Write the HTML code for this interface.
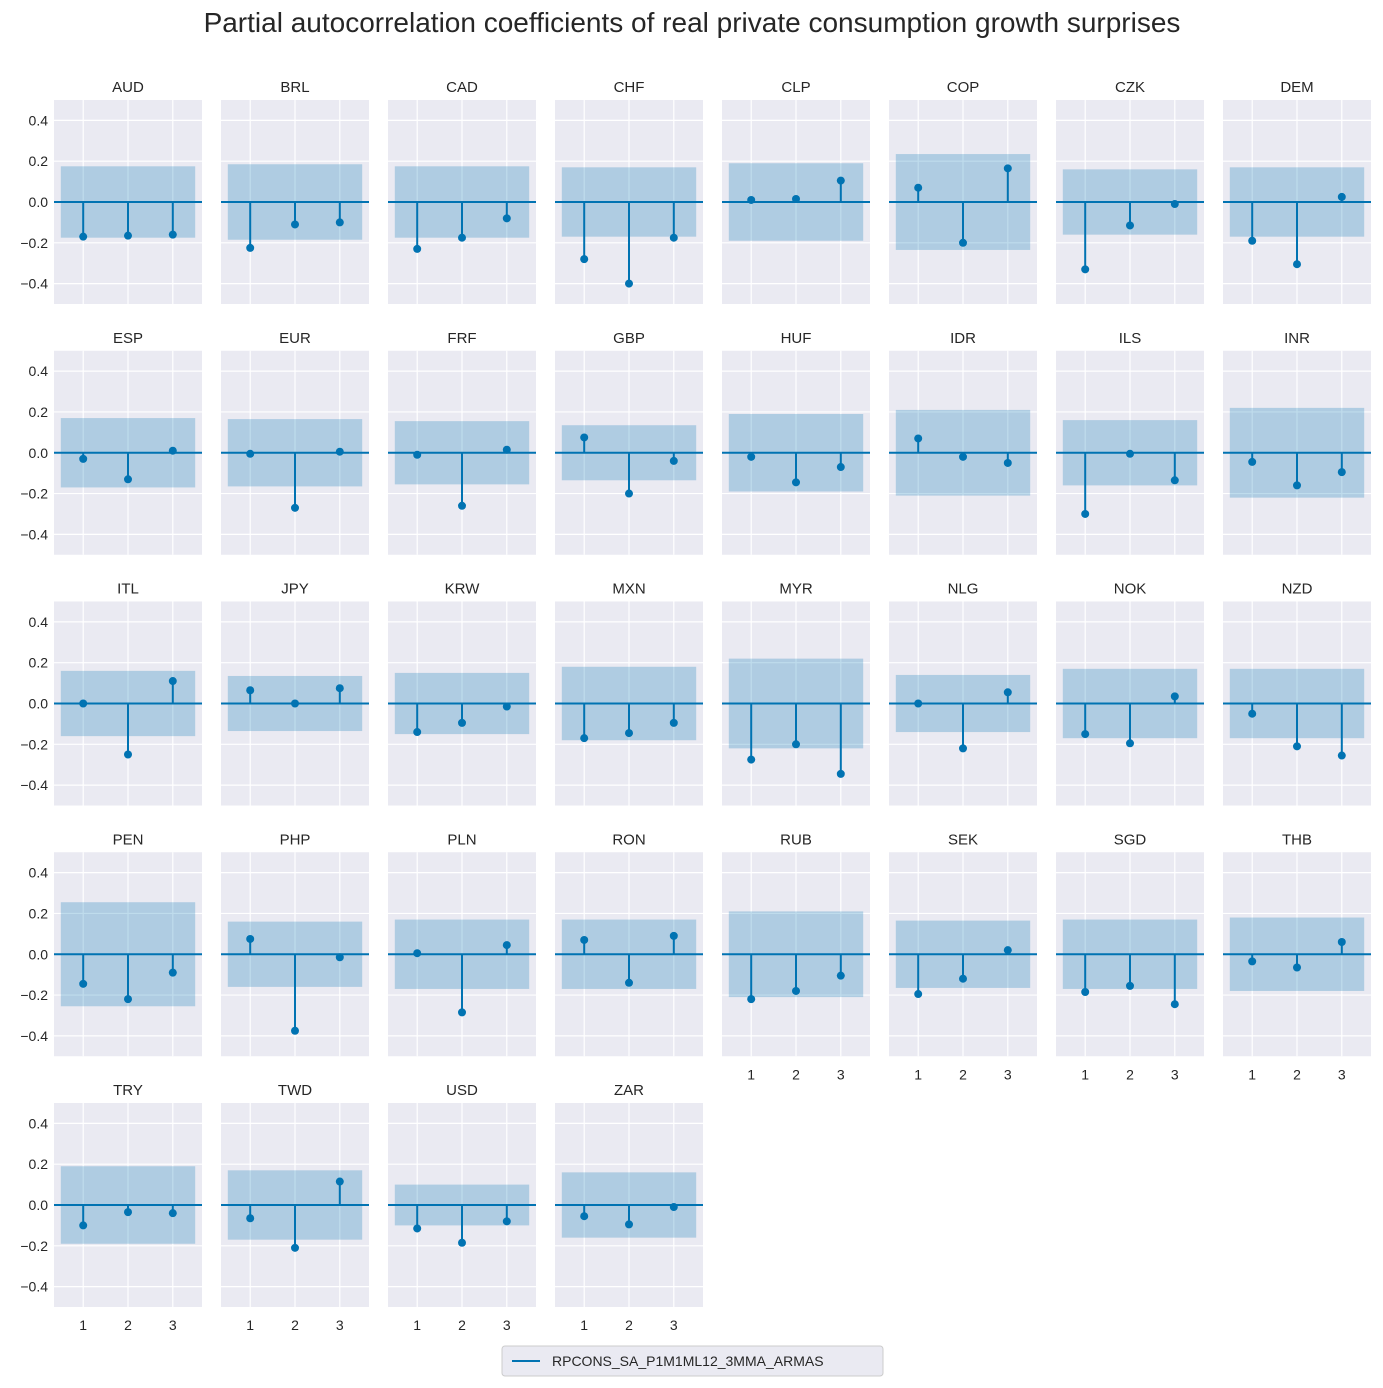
<!DOCTYPE html>
<html><head><meta charset="utf-8"><style>
body{margin:0;background:#fff;font-family:"Liberation Sans",Arial,sans-serif}
svg text{font-family:"Liberation Sans",Arial,sans-serif;fill:#262626}
</style></head><body>
<svg id="c" width="1383" height="1383">
<text x="692" y="32" text-anchor="middle" font-size="28">Partial autocorrelation coefficients of real private consumption growth surprises</text>
<g id="legend">
<rect x="502" y="1346" width="381" height="30" rx="3" fill="#eaeaf2" stroke="#cccccc"/>
<line x1="512" y1="1361" x2="540" y2="1361" stroke="#0173b2" stroke-width="2"/>
<text x="552" y="1366" font-size="14">RPCONS_SA_P1M1ML12_3MMA_ARMAS</text>
</g>
</svg>
<script>
const names=["AUD","BRL","CAD","CHF","CLP","COP","CZK","DEM","ESP","EUR","FRF","GBP","HUF","IDR","ILS","INR","ITL","JPY","KRW","MXN","MYR","NLG","NOK","NZD","PEN","PHP","PLN","RON","RUB","SEK","SGD","THB","TRY","TWD","USD","ZAR"];
const lag1=[-0.17,-0.225,-0.23,-0.28,0.01,0.07,-0.33,-0.19,-0.03,-0.005,-0.01,0.075,-0.02,0.07,-0.3,-0.045,0,0.065,-0.14,-0.17,-0.275,0,-0.15,-0.05,-0.145,0.075,0.005,0.07,-0.22,-0.195,-0.185,-0.035,-0.1,-0.065,-0.115,-0.055];
const lag2=[-0.165,-0.11,-0.175,-0.4,0.015,-0.2,-0.115,-0.305,-0.13,-0.27,-0.26,-0.2,-0.145,-0.02,-0.005,-0.16,-0.25,0,-0.095,-0.145,-0.2,-0.22,-0.195,-0.21,-0.22,-0.375,-0.285,-0.14,-0.18,-0.12,-0.155,-0.065,-0.035,-0.21,-0.185,-0.095];
const lag3=[-0.16,-0.1,-0.08,-0.175,0.105,0.165,-0.01,0.025,0.01,0.005,0.015,-0.04,-0.07,-0.05,-0.135,-0.095,0.11,0.075,-0.015,-0.095,-0.345,0.055,0.035,-0.255,-0.09,-0.015,0.045,0.09,-0.105,0.02,-0.245,0.06,-0.04,0.115,-0.08,-0.01];
const band=[0.175,0.185,0.175,0.17,0.19,0.235,0.16,0.17,0.17,0.165,0.155,0.135,0.19,0.21,0.16,0.22,0.16,0.135,0.15,0.18,0.22,0.14,0.17,0.17,0.255,0.16,0.17,0.17,0.21,0.165,0.17,0.18,0.19,0.17,0.1,0.16];
const yTicks=[0.4,0.2,0,-0.2,-0.4];
const xTicks=[1,2,3];
const svg=document.getElementById('c');
const NS='http://www.w3.org/2000/svg';
function mk(t,a,p){const e=document.createElementNS(NS,t);for(const k in a)e.setAttribute(k,a[k]);(p||svg).appendChild(e);return e;}
names.forEach((n,i)=>{
  const r=Math.floor(i/8),c=i%8;
  const L=54+c*167,W=148,z=202+r*250.75;
  const X=v=>L+74+(v-2)*44.8, Y=v=>z-v*204;
  const g=mk('g',{});
  
  
  const bg=mk('rect',{x:L,y:Y(0.5),width:W,height:204,fill:'#eaeaf2'},g);
  
  
  yTicks.forEach(t=>{mk('line',{x1:L,x2:L+W,y1:Y(t),y2:Y(t),stroke:'#fff','stroke-width':1.2},g);
    if(c===0){const tx=mk('text',{x:L-6,y:Y(t)+5,'text-anchor':'end','font-size':14},g);tx.textContent=(t<0?'\u2212':'')+Math.abs(t).toFixed(1);
      
      }});
  const bottom=(r===4)||(r===3&&c>=4);
  xTicks.forEach(t=>{mk('line',{x1:X(t),x2:X(t),y1:Y(0.5),y2:Y(-0.5),stroke:'#fff','stroke-width':1.2},g);
    if(bottom){const tx=mk('text',{x:X(t),y:Y(-0.5)+23,'text-anchor':'middle','font-size':14},g);tx.textContent=t;
      
      }});
  const b=mk('rect',{x:X(0.5),y:Y(band[i]),width:X(3.5)-X(0.5),height:Y(-band[i])-Y(band[i]),fill:'#0173b2','fill-opacity':0.25},g);
  
  
  mk('line',{x1:L,x2:L+W,y1:Y(0),y2:Y(0),stroke:'#0173b2','stroke-width':2},g);
  [lag1[i],lag2[i],lag3[i]].forEach((v,k)=>{
    const s=mk('line',{x1:X(k+1),x2:X(k+1),y1:Y(0),y2:Y(v),stroke:'#0173b2','stroke-width':2},g);
    
    
    const p=mk('circle',{cx:X(k+1),cy:Y(v),r:4,fill:'#0173b2'},g);
    
    
  });
  const tt=mk('text',{x:L+W/2,y:Y(0.5)-8,'text-anchor':'middle','font-size':15},g);tt.textContent=n;
  
  
});
</script>
</body></html>
